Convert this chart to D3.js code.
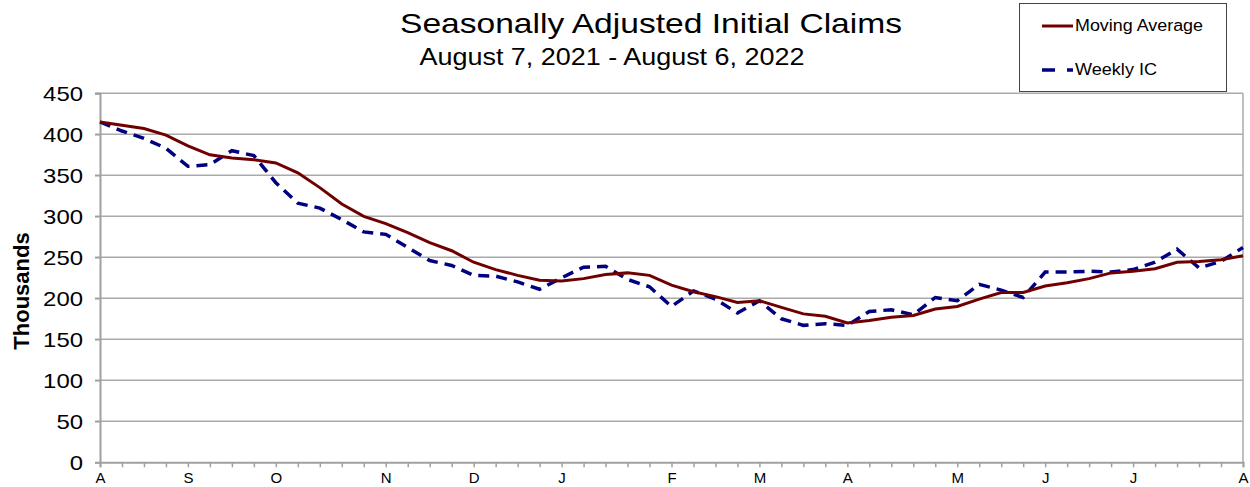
<!DOCTYPE html>
<html>
<head>
<meta charset="utf-8">
<script src="https://cdn.jsdelivr.net/npm/d3@7"></script>
<style>
    body { margin: 0; background: #fff; }
    text { font-family: "Liberation Sans", Arial, sans-serif; }
</style>
</head>
<body>
<div id="chart"></div>
<script>
// weekly observations, Aug 7 2021 .. Aug 6 2022 (thousands)
var weeks = d3.range(53).map(function(i) { return d3.timeDay.offset(new Date(2021, 7, 7), i * 7); });

var movingAverage = [415, 411, 407, 399, 386, 375, 371, 369, 365, 353, 335, 315, 300, 291, 280, 268, 258, 244,
    235, 228, 222, 221, 224, 229, 231, 228, 216, 208, 202, 195, 197, 189, 181, 178, 170, 173, 177, 179, 187, 190,
    199, 207, 207, 215, 219, 224, 231, 233, 236, 244, 245, 247, 252];

var weeklyIC = [415, 404, 395, 383, 361, 363, 380, 374, 341, 316, 310, 296, 281, 278, 262, 246, 240, 228, 227,
    220, 211, 225, 238, 239, 223, 214, 190, 209, 199, 182, 197, 175, 167, 169, 167, 184, 186, 180, 201, 197, 217,
    210, 201, 232, 232, 233, 232, 235, 244, 260, 237, 245, 262];

var yTicks = [0, 50, 100, 150, 200, 250, 300, 350, 400, 450];

var width = 1250,
    height = 487,
    margin = {top: 93.3, right: 7, bottom: 24.7, left: 100};

// the source image is stretched sideways, so text is widened to match
var stretch = function(sel, perChar) {
    sel.each(function() {
        var t = d3.select(this);
        t.attr("textLength", t.text().length * perChar).attr("lengthAdjust", "spacingAndGlyphs");
    });
};

var svg = d3.select("#chart").append("svg")
    .attr("width", width)
    .attr("height", height);

var xScale = d3.scalePoint()
    .domain(d3.range(weeks.length))
    .range([margin.left, width - margin.right]);

var yScale = d3.scaleLinear()
    .domain([0, 450])
    .range([height - margin.bottom, margin.top]);

// month initial under the first week of each month
var monthLetter = function(i) {
    var d = weeks[i];
    if (i > 0 && d.getDate() > 7) return "";
    return "JFMAMJJASOND".charAt(d.getMonth());
};

// gridlines
svg.append("g")
    .selectAll("line")
    .data(yTicks.slice(1))
    .enter().append("line")
    .attr("x1", margin.left - 5)
    .attr("x2", width - margin.right)
    .attr("y1", function(d) { return yScale(d); })
    .attr("y2", function(d) { return yScale(d); })
    .attr("stroke", "#aaaaaa")
    .attr("stroke-width", 1.5);

// right border
svg.append("line")
    .attr("x1", width - margin.right).attr("x2", width - margin.right)
    .attr("y1", yScale(450)).attr("y2", yScale(0))
    .attr("stroke", "#aaaaaa")
    .attr("stroke-width", 1.5);

var yAxis = svg.append("g")
    .attr("transform", "translate(" + margin.left + ",0)")
    .call(d3.axisLeft(yScale).tickValues(yTicks).tickSize(5).tickPadding(12));

var xAxis = svg.append("g")
    .attr("transform", "translate(0," + yScale(0) + ")")
    .call(d3.axisBottom(xScale).tickSize(5).tickPadding(5).tickFormat(monthLetter));

[yAxis, xAxis].forEach(function(ax) {
    ax.select(".domain").attr("stroke", "#a0a0a0").attr("stroke-width", 2);
    ax.selectAll(".tick line").attr("stroke", "#a0a0a0").attr("stroke-width", 1.5);
});
yAxis.selectAll(".tick text").attr("font-size", 21).attr("fill", "#000").call(stretch, 13.3);
xAxis.selectAll(".tick text").attr("font-size", 15).attr("fill", "#000");

svg.append("text")
    .attr("transform", "translate(29," + 291 + ") rotate(-90)")
    .attr("text-anchor", "middle")
    .attr("font-size", 22)
    .attr("font-weight", "bold")
    .text("Thousands");

var line = function(values) {
    return d3.line()
        .x(function(d, i) { return xScale(i); })
        .y(function(d) { return yScale(d); })(values);
};

svg.append("path")
    .attr("d", line(weeklyIC))
    .attr("fill", "none")
    .attr("stroke", "#000080")
    .attr("stroke-width", 3.5)
    .attr("stroke-dasharray", "11,7");

svg.append("path")
    .attr("d", line(movingAverage))
    .attr("fill", "none")
    .attr("stroke", "#700000")
    .attr("stroke-width", 3);

// titles
svg.append("text")
    .attr("x", 651).attr("y", 33)
    .attr("text-anchor", "middle")
    .attr("font-size", 28)
    .attr("textLength", 502).attr("lengthAdjust", "spacingAndGlyphs")
    .text("Seasonally Adjusted Initial Claims");

svg.append("text")
    .attr("x", 612).attr("y", 65)
    .attr("text-anchor", "middle")
    .attr("font-size", 24)
    .attr("textLength", 385).attr("lengthAdjust", "spacingAndGlyphs")
    .text("August 7, 2021 - August 6, 2022");

// legend
var legend = svg.append("g");
legend.append("rect")
    .attr("x", 1019.5).attr("y", 3.5)
    .attr("width", 207).attr("height", 88)
    .attr("fill", "#fff")
    .attr("stroke", "#444")
    .attr("stroke-width", 1);

legend.append("line")
    .attr("x1", 1042).attr("x2", 1073)
    .attr("y1", 26).attr("y2", 26)
    .attr("stroke", "#700000").attr("stroke-width", 3);
legend.append("text")
    .attr("x", 1075).attr("y", 31)
    .attr("font-size", 16)
    .attr("textLength", 128).attr("lengthAdjust", "spacingAndGlyphs")
    .text("Moving Average");

legend.append("line")
    .attr("x1", 1042).attr("x2", 1073)
    .attr("y1", 70).attr("y2", 70)
    .attr("stroke", "#000080").attr("stroke-width", 3.5)
    .attr("stroke-dasharray", "13,12");
legend.append("text")
    .attr("x", 1075).attr("y", 75)
    .attr("font-size", 16)
    .attr("textLength", 82).attr("lengthAdjust", "spacingAndGlyphs")
    .text("Weekly IC");
</script>
</body>
</html>
